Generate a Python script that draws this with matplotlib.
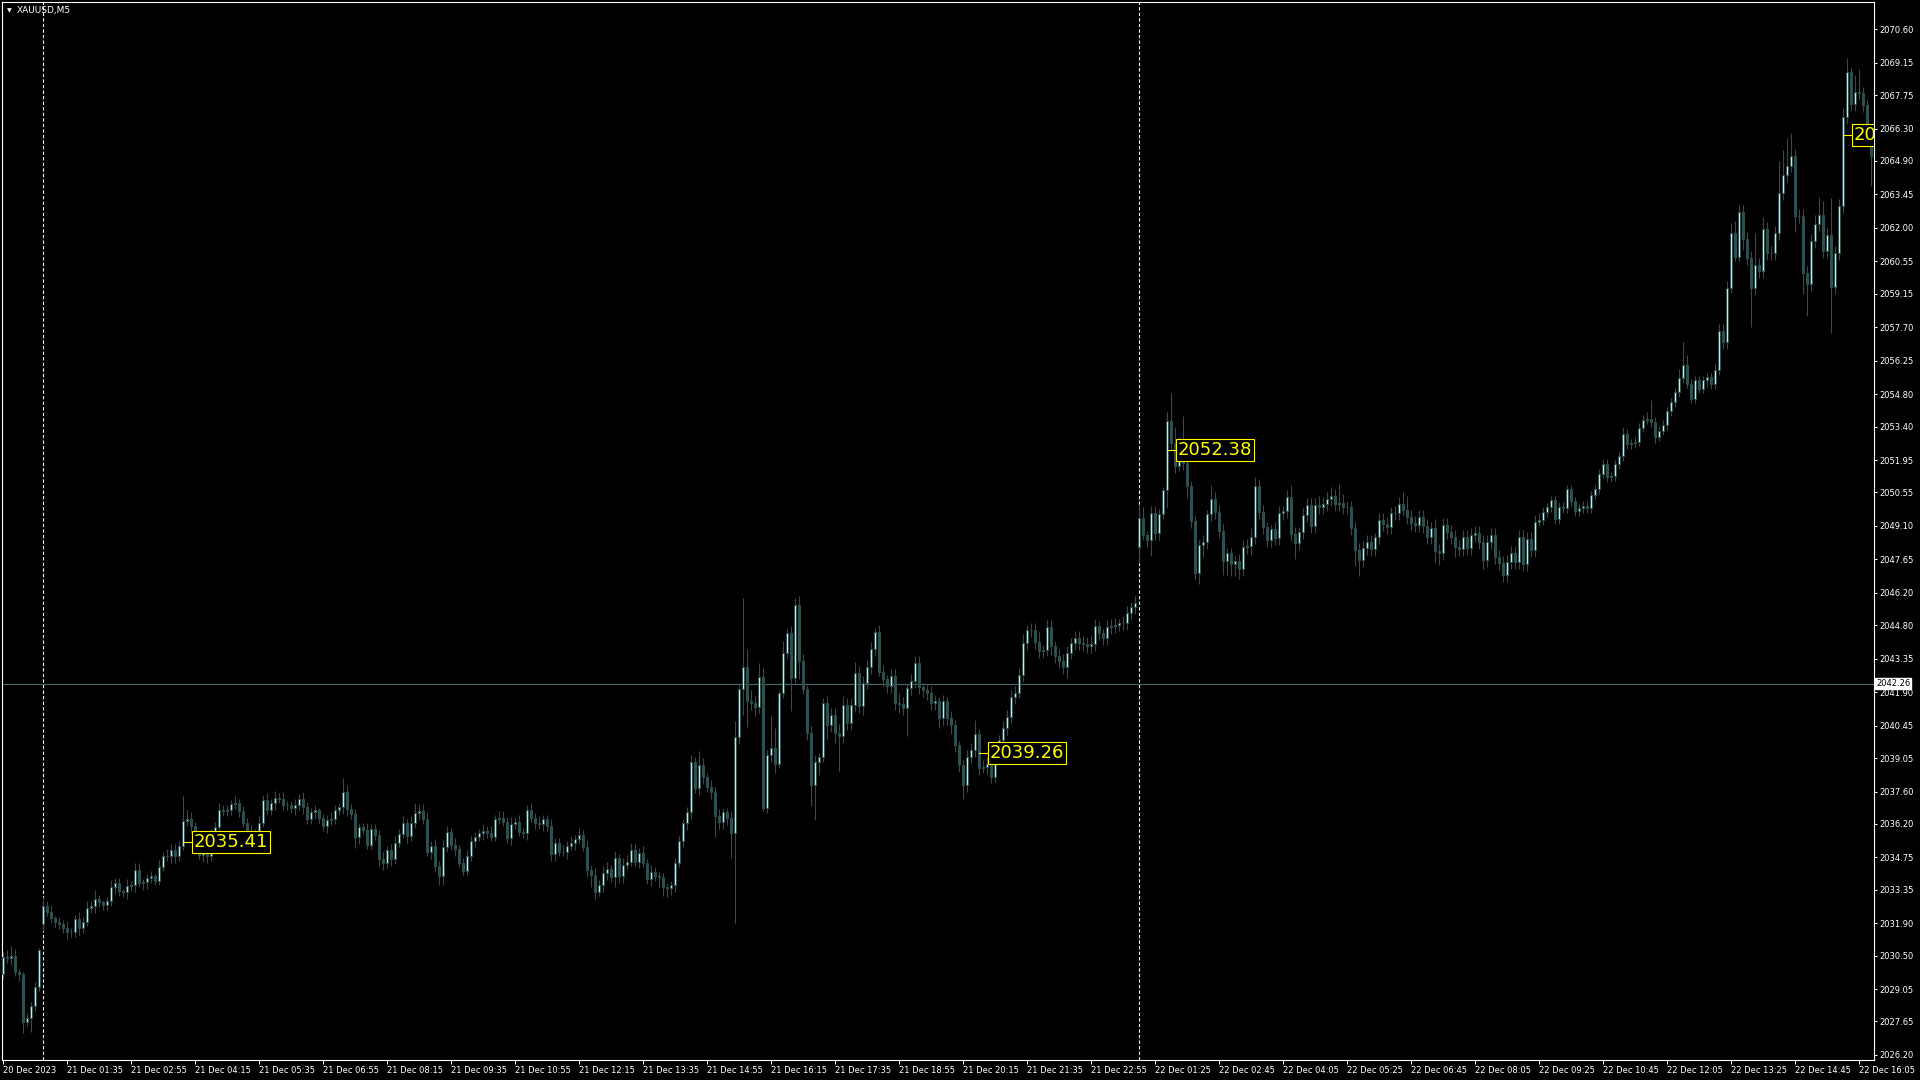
import numpy as np
import matplotlib.pyplot as plt

# XAUUSD M5 candles (left to right)
symbol = "XAUUSD,M5"
first_open = 2029.70
gap_opens = {10: 2031.87, 284: 2048.20}   # session opens that gap away from previous close

closes_a = [2030.45, 2030.40, 2030.50, 2029.80, 2029.70, 2027.64, 2027.80, 2028.30, 2029.15, 2030.75,
            2032.65, 2032.40, 2032.12, 2031.95, 2031.85, 2031.68, 2031.50, 2031.50, 2032.07, 2031.68,
            2031.97, 2032.55, 2032.65, 2032.94, 2032.80, 2032.69, 2032.85, 2033.48, 2033.65, 2033.30,
            2033.25, 2033.50, 2033.55, 2034.20, 2033.65, 2033.70, 2033.85, 2033.95, 2033.75, 2034.35,
            2034.80, 2034.80, 2035.05, 2034.80, 2035.25, 2036.33, 2036.40, 2036.10, 2035.65, 2034.86,
            2035.10, 2034.80, 2035.77, 2036.08, 2036.80, 2036.75, 2036.80, 2037.05, 2037.10, 2036.78,
            2036.25, 2035.85, 2035.70, 2035.80, 2036.25, 2037.24, 2036.80, 2037.10, 2037.34, 2037.30,
            2037.00, 2037.00, 2036.88, 2037.00, 2037.30, 2036.95, 2036.40, 2036.70, 2036.80, 2036.45,
            2036.10, 2036.37, 2036.40, 2036.80, 2036.92, 2037.57, 2036.85, 2036.63, 2035.65, 2036.05,
            2035.95, 2035.30, 2035.98, 2035.72, 2034.67]
closes_b = [2034.50, 2035.05, 2034.67, 2035.39, 2035.77, 2036.23, 2035.68, 2036.23, 2036.69, 2036.76,
            2036.40, 2035.00, 2035.25, 2034.38, 2033.95, 2035.19, 2035.83, 2035.29, 2035.10, 2034.52,
            2034.18, 2034.79, 2035.48, 2035.65, 2035.80, 2035.90, 2035.80, 2035.65, 2036.40, 2036.47,
            2036.30, 2035.58, 2036.20, 2036.28, 2035.86, 2035.80, 2036.80, 2036.47, 2036.26, 2036.20,
            2036.40, 2036.10, 2034.90, 2035.39, 2034.99, 2035.00, 2035.25, 2035.39, 2035.54, 2035.72,
            2035.22, 2034.21, 2033.99, 2033.27, 2033.56, 2034.06, 2034.24, 2033.89, 2034.71, 2033.95,
            2034.43, 2034.57, 2035.07, 2034.57, 2034.96, 2034.50, 2033.80, 2034.14, 2033.95, 2033.89,
            2033.46, 2033.42, 2033.55, 2034.52, 2035.48, 2036.23, 2036.73, 2038.90, 2037.74, 2038.75,
            2038.22, 2037.79, 2037.60, 2036.55, 2036.30, 2036.70, 2036.45, 2035.82, 2039.95, 2042.03,
            2042.98, 2041.50, 2041.45, 2041.28, 2042.58]
closes_c = [2036.88, 2039.18, 2039.47, 2038.80, 2041.86, 2043.60, 2044.45, 2042.50, 2045.68, 2043.27,
            2042.03, 2040.15, 2037.89, 2038.90, 2039.09, 2041.45, 2040.48, 2040.90, 2040.12, 2040.00,
            2041.35, 2040.56, 2041.35, 2042.72, 2041.30, 2042.32, 2042.98, 2043.76, 2044.50, 2042.79,
            2042.46, 2042.17, 2042.60, 2041.45, 2041.40, 2041.20, 2042.07, 2042.40, 2043.18, 2042.12,
            2042.00, 2041.85, 2041.45, 2041.50, 2040.77, 2041.50, 2040.80, 2040.48, 2039.60, 2038.75,
            2037.89, 2039.10, 2039.40, 2040.10, 2038.60, 2038.65, 2038.80, 2038.25, 2039.13, 2039.83,
            2040.34, 2040.82, 2041.68, 2041.85, 2042.65, 2044.02, 2044.60, 2044.60, 2044.09, 2043.70,
            2043.75, 2044.71, 2043.90, 2043.47, 2043.27, 2043.00, 2043.62, 2044.04, 2044.24, 2044.02,
            2044.00, 2043.90, 2043.97, 2044.77, 2044.45, 2044.24, 2044.71, 2044.77, 2044.83, 2044.88,
            2044.90, 2045.32, 2045.60, 2045.75, 2049.43]
closes_d = [2048.70, 2048.49, 2049.67, 2048.78, 2049.62, 2050.67, 2053.64, 2052.70, 2051.69, 2052.67,
            2051.81, 2050.83, 2049.32, 2047.07, 2048.27, 2048.40, 2049.61, 2050.25, 2049.71, 2048.89,
            2047.59, 2047.94, 2047.45, 2047.58, 2047.22, 2048.17, 2048.23, 2048.63, 2050.83, 2049.71,
            2049.06, 2048.49, 2048.95, 2048.56, 2049.67, 2049.76, 2050.36, 2048.75, 2048.37, 2048.85,
            2049.57, 2050.00, 2049.09, 2050.00, 2049.90, 2050.05, 2050.25, 2050.39, 2050.05, 2050.10,
            2049.90, 2049.90, 2048.99, 2048.05, 2047.62, 2048.13, 2048.40, 2048.10, 2048.60, 2049.35,
            2049.20, 2049.06, 2049.64, 2049.67, 2050.07, 2049.81, 2049.47, 2049.21, 2049.14, 2049.47,
            2049.09, 2048.63, 2048.99, 2048.03, 2047.91, 2049.14, 2048.85, 2048.63, 2048.17, 2048.10,
            2048.63, 2048.13, 2048.70, 2048.78, 2048.42, 2047.62, 2048.42, 2048.70, 2047.77, 2047.48,
            2046.97, 2047.55, 2047.94, 2047.55, 2048.63, 2047.45, 2048.52, 2048.05, 2049.28, 2049.35]
closes_e = [2049.70, 2049.90, 2050.21, 2049.39, 2049.94, 2049.86, 2050.68, 2050.17, 2049.75, 2049.86,
            2049.96, 2049.86, 2050.43, 2050.68, 2051.36, 2051.80, 2051.21, 2051.24, 2051.77, 2052.11,
            2053.08, 2052.65, 2052.67, 2052.75, 2053.36, 2053.70, 2053.75, 2053.60, 2052.97, 2053.23,
            2053.47, 2054.06, 2054.45, 2054.88, 2055.50, 2056.08, 2055.26, 2054.60, 2055.41, 2055.04,
            2055.41, 2055.53, 2055.23, 2055.85, 2057.53, 2057.06, 2059.40, 2061.80, 2060.76, 2062.70,
            2061.53, 2060.71, 2059.40, 2060.40, 2060.15, 2061.96, 2060.91, 2060.91, 2061.77, 2063.51,
            2064.29, 2064.70, 2065.12, 2062.52, 2062.50, 2060.06, 2059.59, 2061.43, 2062.15, 2062.55,
            2061.00, 2061.70, 2059.43, 2060.91, 2062.94, 2066.79, 2068.75, 2067.35, 2067.90, 2067.82,
            2067.30, 2065.97, 2065.12]

# wick length above / below the body, tenths of a dollar
upper_a = [2,3,4,3,1,1,2,2,2,1, 4,2,3,1,2,2,3,2,2,3, 2,3,2,4,2,1,2,3,2,2, 1,3,2,3,3,1,2,2,1,3,
           2,3,3,3,2,11,4,3,2,2, 2,1,2,2,3,2,2,2,3,2, 2,2,3,2,3,2,3,2,3,2, 3,2,2,3,2,3,2,2,2,1,
           2,2,3,2,2,6,3,2,2,2, 2,3,2,2,2]
lower_a = [2,2,3,2,3,5,2,6,2,2, 3,2,2,2,2,2,3,2,2,3, 2,2,2,3,2,2,2,2,3,2, 2,3,2,3,2,3,3,2,2,2,
           2,2,3,3,2,2,2,3,3,2, 3,3,2,2,2,2,2,2,2,3, 2,3,4,2,2,2,2,2,3,2, 2,2,2,3,2,3,2,2,3,2,
           2,3,2,2,2,3,3,2,5,3, 2,2,2,2,3]
upper_b = [3,2,3,3,2,3,2,3,4,3, 3,3,2,3,2,3,3,2,3,2, 2,3,2,2,2,3,2,3,2,3, 3,2,3,2,3,2,2,3,2,3,
           2,2,3,2,2,3,2,3,2,3, 2,3,2,3,2,3,3,2,3,2, 3,3,3,3,2,3,2,3,2,2, 2,2,2,2,2,2,2,3,2,6,
           3,2,3,2,3, 2,2,3,7,2,30,8,5,3,6]
lower_b = [3,2,3,2,2,2,3,2,2,3, 2,2,3,2,4,4,2,2,3,2, 2,2,2,3,2,3,2,2,2,2, 2,2,3,2,2,2,3,2,3,2,
           3,2,3,3,2,2,3,2,3,2, 2,3,5,3,2,3,3,2,4,3, 3,2,2,2,3,2,2,3,2,4, 4,4,3,3,2,3,3,3,2,3,
           3,2,3,9,3, 3,3,11,39,3,11,11,3,4,3]
upper_c = [4,2,14,9,1,5,2,3,3,4, 3,2,3,3,2,2,3,3,3,4, 4,3,3,5,3,3,3,3,2,3, 3,2,3,3,4,3,2,3,3,3,
           2,2,3,3,2,3,2,3,2,2, 2,3,3,6,2,3,3,2,3,2, 3,3,3,3,3,4,2,3,3,4, 2,3,3,2,3,3,3,2,3,3,
           3,3,4,3,2,2,3,3,3,2, 3,3,2,3,6]
lower_c = [1,2,3,4,2,2,2,14,2,8, 2,3,9,15,6,2,6,3,4,15, 3,3,3,3,3,4,3,3,3,2, 3,3,3,3,4,3,12,3,3,3,
           3,3,3,3,4,3,3,4,3,3, 6,3,3,3,3,2,3,3,3,2, 3,3,3,3,2,3,3,3,3,3, 3,3,4,3,3,3,5,3,3,3,
           3,3,3,3,3,3,3,3,3,3, 3,3,3,3,7]
upper_d = [5,2,3,3,2,1,4,12,7,3, 12,3,2,2,2,3,2,6,3,3, 3,2,2,2,3,3,3,4,4,3, 3,2,2,3,3,2,3,5,3,2,
           3,3,3,3,4,3,3,4,3,8, 4,3,3,3,3,3,3,3,2,3, 3,3,3,3,3,5,6,3,3,3, 3,3,3,4,3,3,3,3,3,3,
           3,3,3,3,3,3,3,3,3,3, 3,3,3,3,3,3,3,3,3,3]
lower_d = [2,3,7,3,3,2,8,3,3,2, 3,5,3,3,5,5,3,3,3,3, 6,6,5,5,4,3,3,4,3,3, 3,3,3,3,3,3,3,3,7,3,
           3,3,3,3,3,3,3,3,3,3, 3,3,3,7,7,3,3,3,3,3, 3,3,3,3,3,3,3,3,3,3, 3,3,3,5,5,3,3,3,4,3,
           3,3,3,3,3,4,3,3,3,3, 3,3,3,3,3,3,3,3,3,2]
upper_e = [2,2,2,2,2,2,2,2,2,2, 2,2,2,2,2,2,2,2,2,2, 3,2,2,2,2,2,3,8,2,2, 2,2,2,2,4,10,4,2,2,2,
           2,2,2,3,3,3,3,4,5,3, 3,3,3,14,3,5,3,3,3,14, 11,12,10,3,3,3,3,3,4,8, 6,3,16,3,3,4,6,2,7,10,
           3,3,3]
lower_e = [2,2,2,2,2,2,2,2,2,2, 2,2,2,2,2,2,2,2,2,2, 2,2,2,2,2,2,2,2,3,2, 2,2,2,2,2,2,2,2,2,2,
           2,3,2,2,2,3,3,2,2,2, 5,3,17,3,3,3,3,3,3,3, 3,3,3,7,3,9,14,3,3,3, 3,3,20,3,3,3,3,3,3,3,
           3,4,13]

price_ticks = [2070.60, 2069.15, 2067.75, 2066.30, 2064.90, 2063.45, 2062.00, 2060.55, 2059.15,
               2057.70, 2056.25, 2054.80, 2053.40, 2051.95, 2050.55, 2049.10, 2047.65, 2046.20,
               2044.80, 2043.35, 2041.90, 2040.45, 2039.05, 2037.60, 2036.20, 2034.75, 2033.35,
               2031.90, 2030.50, 2029.05, 2027.65, 2026.20]
time_labels = ["20 Dec 2023", "21 Dec 01:35", "21 Dec 02:55", "21 Dec 04:15", "21 Dec 05:35",
               "21 Dec 06:55", "21 Dec 08:15", "21 Dec 09:35", "21 Dec 10:55", "21 Dec 12:15",
               "21 Dec 13:35", "21 Dec 14:55", "21 Dec 16:15", "21 Dec 17:35", "21 Dec 18:55",
               "21 Dec 20:15", "21 Dec 21:35", "21 Dec 22:55", "22 Dec 01:25", "22 Dec 02:45",
               "22 Dec 04:05", "22 Dec 05:25", "22 Dec 06:45", "22 Dec 08:05", "22 Dec 09:25",
               "22 Dec 10:45", "22 Dec 12:05", "22 Dec 13:25", "22 Dec 14:45", "22 Dec 16:05"]
bars_per_label = 16
day_breaks = [10, 284]
bid = 2042.26
marker_bars = [45, 244, 291, 460]
marker_prices = [2035.41, 2039.26, 2052.38, 2066.03]

# build OHLC
closes = np.array(closes_a + closes_b + closes_c + closes_d + closes_e)
opens = np.r_[first_open, closes[:-1]]
for i, v in gap_opens.items():
    opens[i] = v
upper = np.array(upper_a + upper_b + upper_c + upper_d + upper_e) / 10
lower = np.array(lower_a + lower_b + lower_c + lower_d + lower_e) / 10
highs = np.maximum(opens, closes) + upper
lows = np.minimum(opens, closes) - lower
x = np.arange(len(closes))

dsg = '#2F4F4F'
bull_fill = '#F2DDB4'

fig = plt.figure(figsize=(19.2, 10.8), dpi=100, facecolor='black')
ax = fig.add_axes([2 / 1920, 20 / 1080, 1872 / 1920, 1058 / 1080])
ax.set_facecolor('black')

ax.vlines(x, lows, highs, color=dsg, lw=0.8, zorder=2)
up = closes >= opens
ax.bar(x[up], (closes - opens)[up], bottom=opens[up], width=0.55,
       color=bull_fill, edgecolor=dsg, lw=0.72, zorder=3)
ax.bar(x[~up], (opens - closes)[~up], bottom=closes[~up], width=0.55,
       color=dsg, edgecolor=dsg, lw=0.72, zorder=3)

for d in day_breaks:
    ax.axvline(d, color='white', lw=0.8, ls=(0, (3, 2)), zorder=1)
ax.axhline(bid, color='#4E6868', lw=0.8, zorder=1)

# price markers (the last one is cut off by the right edge, as in MT4)
for b, p in zip(marker_bars, marker_prices):
    ax.plot([b, b + 2.6], [p, p], color='yellow', lw=0.8, zorder=4)
    ax.text(b + 2.6, p, f'{p:.2f}', color='yellow', fontsize=13, ha='left', va='center',
            bbox=dict(boxstyle='square,pad=0.1', fc='black', ec='yellow', lw=0.8),
            clip_on=True, zorder=5)

ax.set_xlim(-0.33, 467.68)
ax.set_ylim(2025.98, 2071.78)

for s in ax.spines.values():
    s.set_color('white')
    s.set_linewidth(0.8)

ax.yaxis.tick_right()
ax.set_yticks(price_ticks, [f'{v:.2f}' for v in price_ticks])
ax.tick_params(axis='y', colors='white', labelsize=6, length=2.5, width=0.7, pad=1.5)
ax.set_xticks(np.arange(len(time_labels)) * bars_per_label, time_labels, ha='left')
ax.tick_params(axis='x', colors='white', labelsize=6, length=3, width=0.7, pad=1.5)

# current bid label on the price scale
ax.text(1.0012, bid, f'{bid:.2f}', transform=ax.get_yaxis_transform(), ha='left', va='center',
        fontsize=6, color='black', bbox=dict(boxstyle='square,pad=0.12', fc='white', ec='white'),
        clip_on=False, zorder=6)

fig.text(7 / 1920, 1 - 11 / 1080, '\u25bc', color='white', fontsize=4.5, va='center')
fig.text(17 / 1920, 1 - 11 / 1080, symbol, color='white', fontsize=6.5, va='center')

fig.savefig('out.png', dpi=100, facecolor='black')
